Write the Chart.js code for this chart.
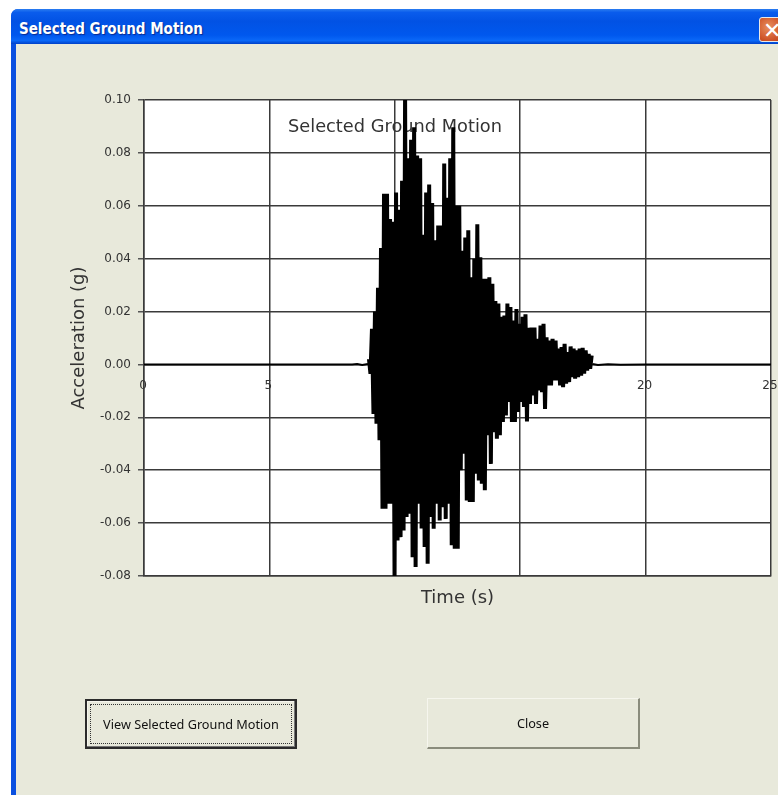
<!DOCTYPE html>
<html><head><meta charset="utf-8">
<script src="https://cdn.jsdelivr.net/npm/chart.js@4"></script>
<style>
html,body{margin:0;padding:0;background:#fff;overflow:hidden}
#page{position:absolute;left:0;top:0;width:778px;height:795px;overflow:hidden;background:#fff}
#win{position:absolute;left:11px;top:9px;width:767px;height:786px;background:#0a50e0;border-radius:7px 0 0 0}
#bar{position:absolute;left:0;top:0;right:0;height:35px;border-radius:7px 0 0 0;background:linear-gradient(#2a7cf0 0,#0a5cec 10%,#0252e4 35%,#0058ee 75%,#0a68f8 90%,#0040c8 100%)}
#cap{position:absolute;left:8px;top:11px;color:#fff;font:bold 15px "DejaVu Sans Condensed","DejaVu Sans",sans-serif;text-shadow:1px 1px 1px #0a2a90;white-space:nowrap}
#xbtn{position:absolute;left:748px;top:8px;width:24px;height:25px;border:1px solid #e8e8e8;border-radius:3px;background:radial-gradient(circle at 40% 40%,#e89060,#d0562a 65%,#b83c18);color:#fff;font:bold 22px/25px "DejaVu Sans",sans-serif;text-indent:3px;overflow:hidden;box-sizing:border-box}
#body{position:absolute;left:16px;top:44px;width:762px;height:751px;background:#e8e9db}
canvas{position:absolute;left:0;top:0}
.btn{position:absolute;box-sizing:border-box;background:#e8e9db;text-align:center;color:#111;font:12.7px "Noto Sans",sans-serif;display:flex;align-items:center;justify-content:center}
#b1{left:85px;top:699px;width:212px;height:50px;border:2px solid #2b2b2b;box-shadow:inset -1px -1px 0 #777,inset 0 0 0 1px #f4f4ec}
#b1 span{position:absolute;left:3px;top:3px;right:3px;bottom:3px;border:1px dotted #333;display:flex;align-items:center;justify-content:center}
#b2{left:427px;top:698px;width:213px;height:51px;border-right:2px solid #8a8c7c;border-bottom:2px solid #8a8c7c;border-top:1px solid #f6f6ee;border-left:1px solid #f6f6ee}
</style></head>
<body>
<div id="page">
<div id="win"><div id="bar"><div id="cap">Selected Ground Motion</div><div id="xbtn">✕</div></div></div>
<div id="body"></div>
<canvas id="c" width="778" height="795"></canvas>
<div class="btn" id="b1"><span>View Selected Ground Motion</span></div>
<div class="btn" id="b2">Close</div>
</div>
<script>
const chartTitle = "Selected Ground Motion";
const xAxisTitle = "Time (s)";
const yAxisTitle = "Acceleration (g)";
const xTicks = [0,5,10,15,20,25];
const yTicks = [-0.08,-0.06,-0.04,-0.02,0,0.02,0.04,0.06,0.08,0.10];

const quietBeforeTimes = [0,5,8.3,8.5,8.7,8.93];
const quietBeforeAccel = [0,0,0,0.0002,-0.0002,0.0002];
const quietAfterTimes = [17.88,18.1,18.5,19,20,22,25];
const quietAfterAccel = [0.0002,-0.0002,0.0001,-0.0001,0,0,0];

const posTimes = [8.97,9.09,9.21,9.33,9.45,9.57,9.69,9.81,9.93,10.05,
10.17,10.29,10.41,10.53,10.65,10.77,10.89,11.01,11.13,11.25,
11.37,11.49,11.61,11.73,11.85,11.97,12.09,12.21,12.33,12.45,
12.57,12.69,12.81,12.93,13.05,13.17,13.29,13.41,13.53,13.65,
13.77,13.89,14.01,14.13,14.25,14.37,14.49,14.61,14.73,14.85,
14.97,15.09,15.21,15.33,15.45,15.57,15.69,15.81,15.93,16.05,
16.17,16.29,16.41,16.53,16.65,16.77,16.89,17.01,17.13,17.25,
17.37,17.49,17.61,17.73,17.85];
const posPeaks = [.002,.0135,.020,.029,.044,.0645,.0645,.055,.054,.065,
.0585,.0695,.102,.078,.085,.0897,.079,.078,.049,.065,
.068,.061,.047,.0525,.0525,.076,.063,.078,.0897,.060,
.060,.043,.048,.0507,.033,.040,.053,.0405,.0324,.0324,
.033,.0305,.024,.023,.018,.0185,.023,.0217,.0166,.021,
.0154,.018,.019,.0139,.014,.014,.0097,.0147,.0154,.0103,
.009,.0097,.009,.006,.0066,.0078,.0047,.0068,.006,.0053,
.006,.0063,.0053,.004,.0034];

const negTimes = [9.03,9.15,9.27,9.39,9.51,9.63,9.75,9.87,9.99,10.11,
10.23,10.35,10.47,10.59,10.71,10.83,10.95,11.07,11.19,11.31,
11.43,11.55,11.67,11.79,11.91,12.03,12.15,12.27,12.39,12.51,
12.63,12.75,12.87,12.99,13.11,13.23,13.35,13.47,13.59,13.71,
13.83,13.95,14.07,14.19,14.31,14.43,14.55,14.67,14.79,14.91,
15.03,15.15,15.27,15.39,15.51,15.63,15.75,15.87,15.99,16.11,
16.23,16.35,16.47,16.59,16.71,16.83,16.95,17.07,17.19,17.31,
17.43,17.55,17.67,17.79];
const negPeaks = [-.0035,-.0187,-.0224,-.0287,-.0546,-.0546,-.0527,-.0527,-.0804,-.0666,
-.0653,-.0628,-.0577,-.0565,-.0729,-.0766,-.0527,-.062,-.069,-.0754,
-.0577,-.0621,-.0527,-.059,-.054,-.0584,-.0527,-.0684,-.0697,-.0697,
-.040,-.0338,-.0514,-.052,-.052,-.0413,-.0439,-.0451,-.0476,-.0268,
-.0376,-.0256,-.0281,-.0268,-.0218,-.0193,-.0142,-.0218,-.0218,-.018,
-.0142,-.0161,-.0216,-.0149,-.0117,-.0149,-.0098,-.0105,-.0168,-.0079,
-.0079,-.006,-.006,-.0079,-.0086,-.0073,-.0067,-.0048,-.0054,-.0048,
-.0042,-.0035,-.0023,-.0016];

const pts = (ts,vs)=>ts.map((t,i)=>({x:t,y:vs[i]}));
const strongMotion = [...pts(posTimes,posPeaks),...pts(negTimes,negPeaks)].sort((a,b)=>a.x-b.x);

const plotBg = {id:'plotBg',beforeDraw(ch){const a=ch.chartArea,c=ch.ctx;c.save();c.fillStyle='#fff';c.fillRect(a.left,a.top,a.width,a.height);c.restore();}};
const titleMove = {id:'titleMove',afterLayout(ch){const t=ch.titleBlock;if(t){t.left=288;t.right=502;}}};
const GRID='#3a3a3a';
const quietStyle={showLine:true,pointRadius:0,borderColor:'#000',borderWidth:2,tension:0,xAxisID:'x',yAxisID:'y'};
new Chart(document.getElementById('c'),{
  type:'scatter',
  data:{datasets:[
    {label:'Before',data:pts(quietBeforeTimes,quietBeforeAccel),...quietStyle},
    {label:'Selected Ground Motion',data:strongMotion,showLine:true,pointRadius:0,borderColor:'#000',borderWidth:4,borderJoinStyle:'bevel',borderCapStyle:'butt',tension:0,xAxisID:'x',yAxisID:'y'},
    {label:'After',data:pts(quietAfterTimes,quietAfterAccel),...quietStyle}
  ]},
  options:{
    responsive:false,animation:false,
    layout:{padding:{left:69,right:7,top:0,bottom:186}},
    plugins:{
      legend:{display:false},tooltip:{enabled:false},
      title:{display:true,text:chartTitle,color:'#333',font:{family:'"DejaVu Sans"',size:18,weight:'normal',lineHeight:1.2},padding:{top:116.7,bottom:-38.3}}
    },
    scales:{
      x:{type:'linear',position:'bottom',min:0,max:25,
        ticks:{display:false,stepSize:5},
        grid:{color:GRID,lineWidth:1.5,drawTicks:false},
        border:{color:GRID,width:1.5},
        title:{display:true,text:xAxisTitle,color:'#333',font:{family:'"DejaVu Sans"',size:18,weight:'normal'},padding:0},
        afterFit(s){s.height=33;s.paddingLeft=0;s.paddingRight=0;}
      },
      x2:{type:'linear',axis:'x',position:{y:0},min:0,max:25,
        afterBuildTicks(s){s.ticks=xTicks.map(v=>({value:v}));},
        ticks:{color:'#333',font:{family:'"DejaVu Sans"',size:12},padding:14,labelOffset:-1,maxRotation:0},
        grid:{display:false,drawTicks:false},border:{display:false},
        afterFit(s){s.height=0;s.paddingLeft=0;s.paddingRight=0;}
      },
      y:{type:'linear',min:-0.08,max:0.10,
        afterBuildTicks(s){s.ticks=yTicks.map(v=>({value:v}));},
        ticks:{color:'#333',font:{family:'"DejaVu Sans"',size:12},padding:7,callback:v=>Number(v).toFixed(2)},
        grid:{color:GRID,lineWidth:1.5,tickLength:6,tickColor:'#555'},
        border:{color:GRID,width:1.5},
        title:{display:true,text:yAxisTitle,color:'#333',font:{family:'"DejaVu Sans"',size:18,weight:'normal'},padding:0},
        afterFit(s){s.width=75;}
      }
    }
  },
  plugins:[plotBg,titleMove]
});
</script>
</body></html>
